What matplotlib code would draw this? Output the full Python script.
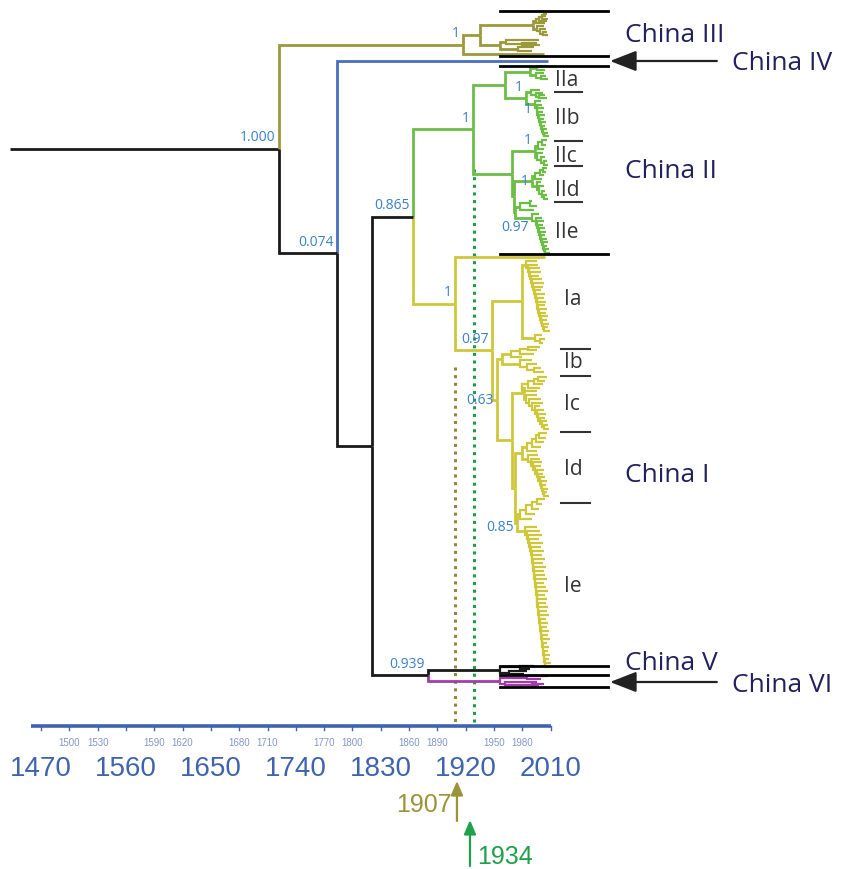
import numpy as np
import matplotlib.pyplot as plt

# colours of the lineages
C_BLACK = '#1a1a1a'
C_III = '#9c983c'
C_IV = '#4a6fc0'
C_II = '#6cbd45'
C_I = '#cfc73a'
C_VI = '#a23ca8'
C_BOOT = '#3a80c8'
C_TEXT = '#22205e'
C_AXIS = '#3f63ae'

# node ages (calendar years) of the backbone
root_start = 1437
age_root, age_b, age_c, age_gy, age_vvi = 1722, 1783.6, 1820.7, 1864, 1880
age_iii, age_iii_a, age_iii_b, age_iii_c = 1917, 1935, 1991, 1956
age_g2, age_g3, age_g4, age_g5 = 1927.7, 1961.6, 1969, 1971.5
age_iia, age_iib, age_iic, age_iid, age_iie = 1988, 1984, 1993, 1990, 1972
age_y, age_y1, age_y2, age_y3, age_y4 = 1908.6, 1948, 1953, 1969, 1972
age_ia, age_ib, age_ic, age_id, age_ie = 1979.6, 1958, 1982, 1980, 1974.6
age_v, age_vi = 1956, 1956.5

# ladder clades: (top row, bottom row, node ages, tip ages, reversed)
lad_iii_1 = (15, 24, [1994, 1998, 2001, 2003], [2004, 2006, 2007, 2005, 2006], True)
lad_iii_2 = (27, 36, [1995, 1999, 2002], [2003, 2005, 2006, 2007], False)
lad_iii_3 = (41, 46, [1963, 1980], [1998, 1995, 1999], False)
lad_iii_4 = (48, 52, [1975], [1992, 1990], False)
tip_iii = (55, 2003)
tip_iv = (62, 2007)
lad_iia_1 = (67, 71, [1996], [2004, 2006], True)
lad_iia_2 = (74, 80, [1994, 2000], [2003, 2005, 2007], False)
lad_iib_1 = (91, 99, [1989, 1994, 1998], [1999, 2002, 2004, 2006], False)
lad_iib_2 = (102, 137, [1993, 1995, 1996, 1997, 1998, 1999, 2000, 2001, 2002, 2003],
             [2000, 2001, 2003, 2002, 2004, 2003, 2005, 2004, 2006, 2007, 2008], False)
lad_iic_1 = (141, 150, [1997, 2001], [2003, 2005, 2006], True)
lad_iic_2 = (154, 166, [1996, 2000, 2003], [2002, 2004, 2006, 2007], False)
lad_iid_1 = (169, 180, [1993, 1999, 2002], [2001, 2003, 2005, 2006], True)
lad_iid_2 = (183, 200, [1995, 1998, 2001, 2003], [2000, 2003, 2004, 2006, 2007], False)
lad_iie_1 = (202, 211, [1978, 1988], [1992, 1995, 1990], True)
lad_iie_2 = (215, 254, [1990, 1994, 1996, 1997, 1998, 1999, 2000, 2001, 2002, 2003, 2004],
             [1998, 2001, 2003, 2002, 2004, 2005, 2004, 2006, 2007, 2006, 2008, 2009], False)
tip_i0 = (258, 2004)
lad_ia_1 = (262, 332, [1984, 1986, 1987, 1988, 1989, 1990, 1991, 1992, 1993, 1994, 1995, 1996,
                       1997, 1998, 1999, 2000, 2001, 2002, 2003],
            [1995, 1997, 1999, 2000, 1998, 2001, 2003, 2002, 2000, 2004, 2003, 2005, 2004, 2006,
             2005, 2007, 2006, 2008, 2007, 2009], False)
lad_ia_2 = (336, 344, [1993, 1999], [2001, 2004, 2002], False)
lad_ib_1 = (348, 358, [1968, 1978, 1986], [1980, 1992, 1995, 1999], True)
lad_ib_2 = (361, 373, [1978, 1985, 1992], [1990, 1996, 2000, 2003], False)
lad_ic_1 = (378, 392, [1980, 1986, 1992, 1997], [1996, 1999, 2002, 2004, 2006], True)
lad_ic_2 = (396, 430, [1984, 1987, 1990, 1993, 1995, 1997, 1999, 2001, 2003],
            [1996, 2000, 2002, 1999, 2003, 2005, 2004, 2006, 2007, 2008], False)
lad_id_1 = (434, 452, [1985, 1990, 1994, 1998], [1995, 2000, 2003, 2005, 2006], True)
lad_id_2 = (456, 497, [1986, 1989, 1991, 1993, 1995, 1997, 1999, 2000, 2001, 2002, 2003],
            [1997, 1999, 2001, 2000, 2003, 2002, 2004, 2006, 2005, 2007, 2006, 2008], False)
lad_ie_1 = (500, 520, [1978, 1984, 1990, 1995], [1990, 1993, 1998, 2001, 2004], True)
lad_ie_2 = (528, 668, [1983, 1985, 1986, 1987, 1988, 1989, 1990, 1990.5, 1991, 1991.5, 1992,
                       1992.5, 1993, 1993.5, 1994, 1994.5, 1995, 1995.5, 1996, 1996.5, 1997,
                       1997.5, 1998, 1998.5, 1999, 1999.5, 2000, 2000.5, 2001, 2001.5, 2002,
                       2002.5, 2003, 2003.5, 2004],
            [1996, 1999, 2001, 1998, 2002, 2000, 2003, 2001, 2004, 2002, 2005, 2003, 2004, 2006,
             2003, 2005, 2007, 2004, 2006, 2005, 2007, 2006, 2008, 2005, 2007, 2006, 2008, 2007,
             2009, 2006, 2008, 2007, 2009, 2008, 2010, 2009], False)
lad_v_1 = (667, 669.5, [1978], [1992, 1988], False)
lad_v_2 = (672, 675, [1966], [1985, 1982], False)
lad_vi_1 = (677, 680, [1985], [2007, 2000], False)
lad_vi_2 = (683, 687, [1962, 1990], [1995, 2003, 1998], False)

# clade delimiters, subclade marks and time axis
bar_rows = [12, 57, 67, 255, 667, 676, 688]
sep_ii_rows = [93, 142, 167, 203]
sep_i_rows = [350, 377, 433, 504]
sub_ii = [('IIa', 80), ('IIb', 118), ('IIc', 156), ('IId', 190), ('IIe', 233)]
sub_i = [('Ia', 300), ('Ib', 363), ('Ic', 405), ('Id', 470), ('Ie', 587)]
china_left = [('China III', 36), ('China II', 171), ('China I', 476), ('China V', 664)]
china_right = [('China IV', 64), ('China VI', 686)]
big_ticks = [1470, 1560, 1650, 1740, 1830, 1920, 2010]
small_ticks = [1500, 1530, 1590, 1620, 1680, 1710, 1770, 1800, 1860, 1890, 1950, 1980]
line_1907, line_1934 = 1908.6, 1928.7


def tip(y, age, color=None):
    return dict(kind='tip', y=y, age=age, color=color)


def node(age, children, color=None, label=None, dy=-12, lw=2.0):
    return dict(kind='node', age=age, children=children, color=color,
                label=label, dy=dy, lw=lw)


def ladder(spec, color=None, label=None, dy=-12):
    y0, y1, nodes, tips, rev = spec
    ys = np.linspace(y0, y1, len(tips))
    if rev:
        ys = ys[::-1]
    sub = tip(ys[-1], tips[-1])
    for k in range(len(nodes) - 1, -1, -1):
        sub = node(nodes[k], [tip(ys[k], tips[k]), sub], lw=1.6)
    sub['color'] = color
    sub['label'] = label
    sub['dy'] = dy
    return sub


china3 = node(age_iii, [
    node(age_iii_a, [
        node(age_iii_b, [ladder(lad_iii_1), ladder(lad_iii_2)]),
        node(age_iii_c, [ladder(lad_iii_3), ladder(lad_iii_4)])]),
    tip(*tip_iii)], color=C_III, label='1')

china2 = node(age_g2, [
    node(age_g3, [
        node(age_iia, [ladder(lad_iia_1), ladder(lad_iia_2)]),
        node(age_iib, [ladder(lad_iib_1), ladder(lad_iib_2, label='1', dy=4)], label='1')]),
    node(age_g4, [
        node(age_iic, [ladder(lad_iic_1), ladder(lad_iic_2)], label='1'),
        node(age_g5, [
            node(age_iid, [ladder(lad_iid_1), ladder(lad_iid_2)], label='1', dy=0),
            node(age_iie, [ladder(lad_iie_1), ladder(lad_iie_2, label='0.97', dy=9)])])])],
    color=C_II, label='1')

china1 = node(age_y, [
    tip(*tip_i0),
    node(age_y1, [
        node(age_ia, [ladder(lad_ia_1), ladder(lad_ia_2)]),
        node(age_y2, [
            node(age_ib, [ladder(lad_ib_1), ladder(lad_ib_2)]),
            node(age_y3, [
                node(age_ic, [ladder(lad_ic_1), ladder(lad_ic_2)]),
                node(age_y4, [
                    node(age_id, [ladder(lad_id_1), ladder(lad_id_2)]),
                    node(age_ie, [ladder(lad_ie_1), ladder(lad_ie_2)], label='0.85', dy=4)])])],
            label='0.63', dy=0)], label='0.97')],
    color=C_I, label='1')

china56 = node(age_vvi, [
    node(age_v, [ladder(lad_v_1), ladder(lad_v_2)], color=C_BLACK, lw=1.6),
    node(age_vi, [ladder(lad_vi_1), ladder(lad_vi_2)], color=C_VI, lw=1.6)],
    label='0.939')

tree = node(age_root, [
    china3,
    node(age_b, [
        tip(*tip_iv, color=C_IV),
        node(age_c, [
            node(age_gy, [china2, china1], label='0.865'),
            china56])], label='0.074')],
    color=C_BLACK, label='1.000')

fig = plt.figure(figsize=(8.42, 8.70), dpi=100)
ax = fig.add_axes([0, 0, 1, 1])
ax.set_xlim(1426.6, 2318.6)
ax.set_ylim(870, 0)
ax.axis('off')


def draw(n, color):
    c = n['color'] or color
    if n['kind'] == 'tip':
        return n['y'], n['age'], c
    kids = [draw(ch, c) for ch in n['children']]
    ny = (kids[0][0] + kids[-1][0]) / 2
    for y, a, cc in kids:
        ax.plot([n['age'], n['age'], a], [ny, y, y], color=cc, lw=n['lw'],
                solid_joinstyle='miter', solid_capstyle='butt', zorder=3)
    if n['label']:
        ax.text(n['age'] - 3.2, ny + n['dy'], n['label'], ha='right', va='center',
                color=C_BOOT, fontsize=10, family='Open Sans', zorder=5)
    return ny, n['age'], c


ry, ra, _ = draw(tree, C_BLACK)
ax.plot([root_start, ra], [ry, ry], color=C_BLACK, lw=2.0, solid_capstyle='butt')

# divergence markers
ax.plot([line_1907, line_1907], [368, 727], color='#8f8a3a', lw=2.2, ls=(0, (1, 1.5)), zorder=2)
ax.plot([line_1934, line_1934], [170, 727], color='#1f9a48', lw=2.2, ls=(0, (1, 1.5)), zorder=2)

# clade bars and subclade marks
for y in bar_rows:
    ax.plot([1956.3, 2070.7], [y, y], color='black', lw=2.0, zorder=4)
for y in sep_ii_rows:
    ax.plot([2014.5, 2043.1], [y, y], color='#333333', lw=1.5)
for y in sep_i_rows:
    ax.plot([2020.9, 2051.6], [y, y], color='#333333', lw=1.5)
for t, y in sub_ii:
    ax.text(2014.5, y, t, ha='left', va='center', fontsize=15, color='#333333', family='Open Sans')
for t, y in sub_i:
    ax.text(2024.5, y, t, ha='left', va='center', fontsize=15, color='#333333', family='Open Sans')
for t, y in china_left:
    ax.text(2088.7, y, t, ha='left', va='center', fontsize=19, color=C_TEXT, family='Open Sans')
for t, y in china_right:
    ax.text(2202.0, y, t, ha='left', va='center', fontsize=19, color=C_TEXT, family='Open Sans')
for y in [62, 683]:
    ax.annotate('', xy=(2072.8, y), xytext=(2186, y),
                arrowprops=dict(arrowstyle='-|>,head_length=0.9,head_width=0.35',
                                color='#222222', lw=1.6, mutation_scale=18, shrinkA=0, shrinkB=0))

# time axis
ax.plot([1459, 2010], [727, 727], color=C_AXIS, lw=2.6, solid_capstyle='butt')
for t in big_ticks + small_ticks:
    ax.plot([t, t], [727, 731], color=C_AXIS, lw=1.0)
for t in big_ticks:
    ax.text(t, 769, str(t), ha='center', va='center', fontsize=20, color=C_AXIS,
            family='Liberation Sans')
for t in small_ticks:
    ax.text(t, 743, str(t), ha='center', va='center', fontsize=7, color='#8197cc',
            family='Liberation Sans')

# year arrows
ax.annotate('', xy=(1910.7, 782), xytext=(1910.7, 822),
            arrowprops=dict(arrowstyle='-|>,head_length=0.7,head_width=0.3', color='#99943a',
                            lw=1.6, mutation_scale=12, shrinkA=0, shrinkB=0))
ax.text(1905.5, 805, '1907', ha='right', va='center', fontsize=18, color='#99943a',
        family='Liberation Sans')
ax.annotate('', xy=(1924.5, 821), xytext=(1924.5, 867),
            arrowprops=dict(arrowstyle='-|>,head_length=0.7,head_width=0.3', color='#20a04a',
                            lw=1.6, mutation_scale=12, shrinkA=0, shrinkB=0))
ax.text(1932, 857, '1934', ha='left', va='center', fontsize=18, color='#20a04a',
        family='Liberation Sans')

fig.savefig('out.png', dpi=100)
